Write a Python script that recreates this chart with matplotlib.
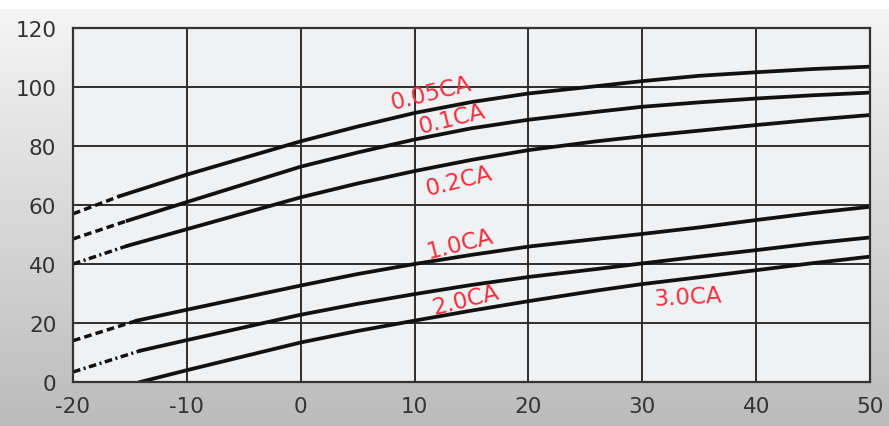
import numpy as np
import matplotlib
matplotlib.use("Agg")
import matplotlib.pyplot as plt

plt.rcParams['font.family'] = ['DejaVu Sans']
plt.rcParams['axes.unicode_minus'] = False

# Temperature (°C) vs capacity (%) for several discharge rates
x_main = [-10, 0, 5, 10, 15, 20, 26, 30, 35, 40, 45, 50]

labels = ["0.05CA", "0.1CA", "0.2CA", "1.0CA", "2.0CA", "3.0CA"]

# extrapolated (dashed) start segments
dash_x = {
    "0.05CA": [-20, -15.9],
    "0.1CA": [-20, -15.2],
    "0.2CA": [-20, -15.2],
    "1.0CA": [-20, -14.4],
    "2.0CA": [-20, -14.1],
}
dash_y = {
    "0.05CA": [57.0, 63.0],
    "0.1CA": [48.5, 54.7],
    "0.2CA": [40.0, 46.2],
    "1.0CA": [14.0, 20.8],
    "2.0CA": [3.4, 10.6],
}
start_3ca_x = -14.1
start_3ca_y = 0.0

# solid curve values at x_main
solid_y = {
    "0.05CA": [70.3, 81.6, 86.6, 91.2, 94.9, 97.8, 100.3, 102.0, 103.8, 105.0, 106.1, 106.9],
    "0.1CA": [61.0, 73.0, 77.8, 82.2, 86.0, 88.9, 91.6, 93.3, 94.8, 96.1, 97.2, 98.1],
    "0.2CA": [51.8, 62.6, 67.3, 71.5, 75.3, 78.6, 81.6, 83.3, 85.2, 87.1, 88.9, 90.5],
    "1.0CA": [24.5, 32.7, 36.6, 40.0, 43.1, 45.9, 48.5, 50.2, 52.4, 54.9, 57.3, 59.4],
    "2.0CA": [14.2, 22.8, 26.5, 29.8, 32.9, 35.6, 38.3, 40.2, 42.5, 44.7, 47.0, 49.0],
    "3.0CA": [4.0, 13.4, 17.3, 20.8, 24.2, 27.4, 31.0, 33.2, 35.5, 37.9, 40.3, 42.5],
}

dash_styles = {
    "0.05CA": (0, (2.2, 1.2)),
    "0.1CA": (0, (2.2, 1.2)),
    "0.2CA": (0, (2.2, 1.0, 0.6, 1.0)),
    "1.0CA": (0, (2.2, 1.2)),
    "2.0CA": (0, (2.2, 1.0, 0.6, 1.0)),
}

# label positions (x, y, rotation)
label_pos = {
    "0.05CA": (11.4, 98.2, 14),
    "0.1CA": (13.3, 89.2, 14),
    "0.2CA": (13.9, 68.2, 14),
    "1.0CA": (14.0, 46.8, 14),
    "2.0CA": (14.5, 28.1, 14),
    "3.0CA": (34.0, 28.8, 3),
}

xticks = [-20, -10, 0, 10, 20, 30, 40, 50]
yticks = [0, 20, 40, 60, 80, 100, 120]

W, H = 889, 427
fig = plt.figure(figsize=(W / 100, H / 100), dpi=100)

# background gradient
bg = fig.add_axes([0, 0, 1, 1], zorder=-10)
bg.set_axis_off()
rows = np.linspace(0, 1, H)
top_c = np.array([0.965, 0.965, 0.965])
bot_c = np.array([0.735, 0.735, 0.735])
grad = top_c[None, None, :] + (bot_c - top_c)[None, None, :] * rows[:, None, None]
grad[:10, 0, :] = 1.0
bg.imshow(grad, aspect='auto', extent=[0, 1, 0, 1], origin='upper')
bg.set_xlim(0, 1)
bg.set_ylim(0, 1)

ax = fig.add_axes([73 / W, 1 - 383 / H, (870 - 73) / W, (383 - 29) / H])
ax.set_facecolor('#f0f1f3')
ax.set_xlim(-20, 50)
ax.set_ylim(0, 120)
ax.set_xticks(xticks)
ax.set_yticks(yticks)
ax.grid(True, color='#2e2e2e', linewidth=1.4)
ax.set_axisbelow(True)
for s in ax.spines.values():
    s.set_color('#333333')
    s.set_linewidth(1.6)
ax.tick_params(length=0, labelsize=15.5, labelcolor='#333333')
ax.tick_params(axis='y', pad=12)
ax.tick_params(axis='x', pad=10)

for lab in labels:
    if lab in dash_x:
        ax.plot(dash_x[lab], dash_y[lab], color='#111111', lw=2.5,
                linestyle=dash_styles[lab], dash_capstyle='butt')
        xs = [dash_x[lab][-1]] + x_main
        ys = [dash_y[lab][-1]] + solid_y[lab]
    else:
        xs = [start_3ca_x] + x_main
        ys = [start_3ca_y] + solid_y[lab]
    ax.plot(xs, ys, color='#111111', lw=2.7, solid_joinstyle='round')
    lx, ly, rot = label_pos[lab]
    ax.text(lx, ly, lab, color='#f0303f', fontsize=16.5, rotation=rot,
            ha='center', va='center', rotation_mode='anchor')

fig.savefig("out.png", dpi=100)
